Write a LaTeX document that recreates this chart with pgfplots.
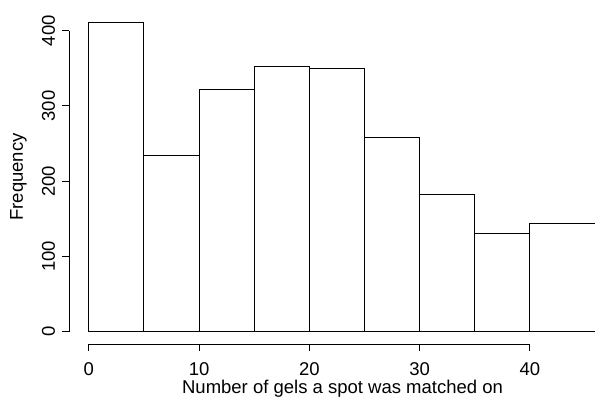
\documentclass[border=0pt]{standalone}
\usepackage{fontspec}
\setmainfont{Liberation Sans}
\usepackage{pgfplots}
\pgfplotsset{compat=1.18}
\begin{document}
\fontsize{18.5bp}{22bp}\selectfont
\begin{tikzpicture}[x=1bp,y=1bp]
\useasboundingbox (0,0) rectangle (595,400);
\begin{axis}[
  at={(69bp,56bp)}, anchor=south west,
  scale only axis, width=526bp, height=334bp,
  xmin=-1.8, xmax=45.9, ymin=-16.3, ymax=427.5,
  axis x line*=bottom, axis y line*=left,
  axis line style={draw=none,-},
  clip mode=individual,
  xtick={0,10,20,30,40}, ytick={0,100,200,300,400},
  tick align=outside, major tick length=7bp,
  tick style={black, line width=1bp},
  /pgf/number format/assume math mode=true,
  ticklabel style={font=\fontsize{18.5bp}{22bp}\selectfont},
  xticklabel style={anchor=base, yshift=-24bp},
  yticklabel style={xshift=-7bp, rotate=90, anchor=base},
  xlabel={Number of gels a spot was matched on},
  ylabel={Frequency},
  every axis x label/.style={at={(axis description cs:0.52,-0.1467)}, anchor=base, font=\fontsize{18.5bp}{22bp}\selectfont},
  every axis y label/.style={at={(axis description cs:-0.0875,0.5)}, anchor=base, rotate=90, font=\fontsize{18.5bp}{22bp}\selectfont},
]
\addplot[ybar interval, fill=white, draw=black, line width=1bp] coordinates {(0,411) (5,234) (10,322) (15,353) (20,350) (25,258) (30,183) (35,130) (40,144) (50,144)};
\draw[line width=1bp] (axis cs:0,-16.3) -- (axis cs:40,-16.3);
\draw[line width=1bp] (axis cs:-1.8,0) -- (axis cs:-1.8,400);
\end{axis}
\end{tikzpicture}
\end{document}
